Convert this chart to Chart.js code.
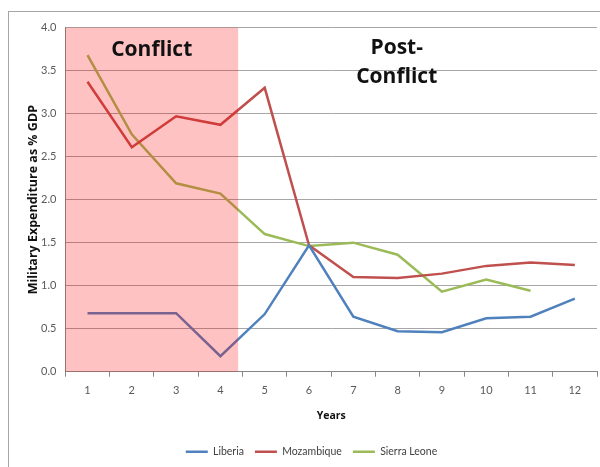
<!DOCTYPE html>
<html>
<head>
<meta charset="utf-8">
<script src="https://cdn.jsdelivr.net/npm/chart.js@4"></script>
<style>
  html, body { margin: 0; padding: 0; background: #fff; }
  .frame {
    position: absolute; left: 8px; top: 11px;
    width: 592px; height: 456px;
    border-top: 1px solid #a6a6a6; border-left: 1px solid #a6a6a6;
  }
  canvas { display: block; }
</style>
</head>
<body>
<div class="frame"><canvas id="militaryChart" width="591" height="455"></canvas></div>
<script>
// Years since start of period
const years = ['1', '2', '3', '4', '5', '6', '7', '8', '9', '10', '11', '12'];

// Military expenditure as % of GDP
const liberia = [0.68, 0.68, 0.68, 0.18, 0.67, 1.47, 0.64, 0.47, 0.46, 0.62, 0.64, 0.85];
const mozambique = [3.37, 2.61, 2.97, 2.87, 3.30, 1.47, 1.10, 1.09, 1.14, 1.23, 1.27, 1.24];
const sierraLeone = [3.68, 2.76, 2.19, 2.07, 1.60, 1.46, 1.50, 1.36, 0.93, 1.07, 0.94, null];

const yTicks = [0, 0.5, 1.0, 1.5, 2.0, 2.5, 3.0, 3.5, 4.0];

// conflict phase runs from the start of the axis up to this category index
const conflictEnd = 3.4;

const labelFont = '"Open Sans", "Noto Sans", sans-serif';
const tickFont = 'Lato, "Open Sans", sans-serif';

/**
 * Draws the pink conflict band over the lines and the phase labels
 */
const phasePlugin = {
  id: 'phasePlugin',
  afterDatasetsDraw(chart) {
    const { ctx, chartArea, scales } = chart;
    const xEnd = scales.x.getPixelForValue(conflictEnd);
    ctx.save();
    ctx.fillStyle = 'rgba(255, 0, 0, 0.24)';
    ctx.fillRect(chartArea.left, chartArea.top, xEnd - chartArea.left, chartArea.bottom - chartArea.top);

    ctx.fillStyle = '#111';
    ctx.font = 'bold 21px ' + labelFont;
    ctx.textAlign = 'center';
    ctx.textBaseline = 'middle';
    ctx.fillText('Conflict', scales.x.getPixelForValue(1.45), scales.y.getPixelForValue(3.74));
    ctx.fillText('Post-', scales.x.getPixelForValue(6.98), scales.y.getPixelForValue(3.76));
    ctx.fillText('Conflict', scales.x.getPixelForValue(6.98), scales.y.getPixelForValue(3.42));
    ctx.restore();
  }
};

function initMilitaryChart() {
  const ctx = document.getElementById('militaryChart');
  if (!ctx) return;

  const chart = new Chart(ctx, {
    type: 'line',
    data: {
      labels: years,
      datasets: [
        {
          label: 'Liberia',
          data: liberia,
          borderColor: '#4f81bd',
          backgroundColor: '#4f81bd',
          borderWidth: 2.5,
          pointRadius: 0,
          pointStyle: 'line',
          tension: 0
        },
        {
          label: 'Mozambique',
          data: mozambique,
          borderColor: '#c0504d',
          backgroundColor: '#c0504d',
          borderWidth: 2.5,
          pointRadius: 0,
          pointStyle: 'line',
          tension: 0
        },
        {
          label: 'Sierra Leone',
          data: sierraLeone,
          borderColor: '#9bbb59',
          backgroundColor: '#9bbb59',
          borderWidth: 2.5,
          pointRadius: 0,
          pointStyle: 'line',
          tension: 0
        }
      ]
    },
    options: {
      responsive: false,
      animation: false,
      layout: {
        padding: { top: 15, right: 3, left: 17, bottom: 0 }
      },
      plugins: {
        legend: {
          position: 'bottom',
          labels: {
            usePointStyle: true,
            pointStyleWidth: 22,
            boxHeight: 2,
            padding: 11,
            color: '#404040',
            font: { family: tickFont, size: 10.5 }
          }
        },
        tooltip: { enabled: false }
      },
      scales: {
        y: {
          min: 0,
          max: 4,
          afterBuildTicks: function(axis) {
            axis.ticks = yTicks.map(v => ({ value: v }));
          },
          ticks: {
            color: '#595959',
            padding: 9,
            font: { family: tickFont, size: 11 },
            callback: v => Number(v).toFixed(1)
          },
          grid: {
            color: '#a6a6a6',
            drawTicks: false
          },
          border: { color: '#868686', width: 1 },
          title: {
            display: true,
            text: 'Military Expenditure as % GDP',
            color: '#111',
            font: { family: labelFont, size: 12.5, weight: 'bold' },
            padding: { top: 0, bottom: -9 }
          }
        },
        x: {
          offset: true,
          ticks: {
            color: '#595959',
            padding: 7,
            font: { family: tickFont, size: 11 }
          },
          grid: {
            offset: true,
            drawOnChartArea: false,
            drawTicks: true,
            tickLength: 5,
            color: '#868686'
          },
          border: { color: '#868686', width: 1 },
          title: {
            display: true,
            text: 'Years',
            color: '#111',
            font: { family: labelFont, size: 10.5, weight: 'bold' },
            padding: { top: 6, bottom: 13 }
          }
        }
      }
    },
    plugins: [phasePlugin]
  });
}

document.addEventListener('DOMContentLoaded', initMilitaryChart);
</script>
</body>
</html>
